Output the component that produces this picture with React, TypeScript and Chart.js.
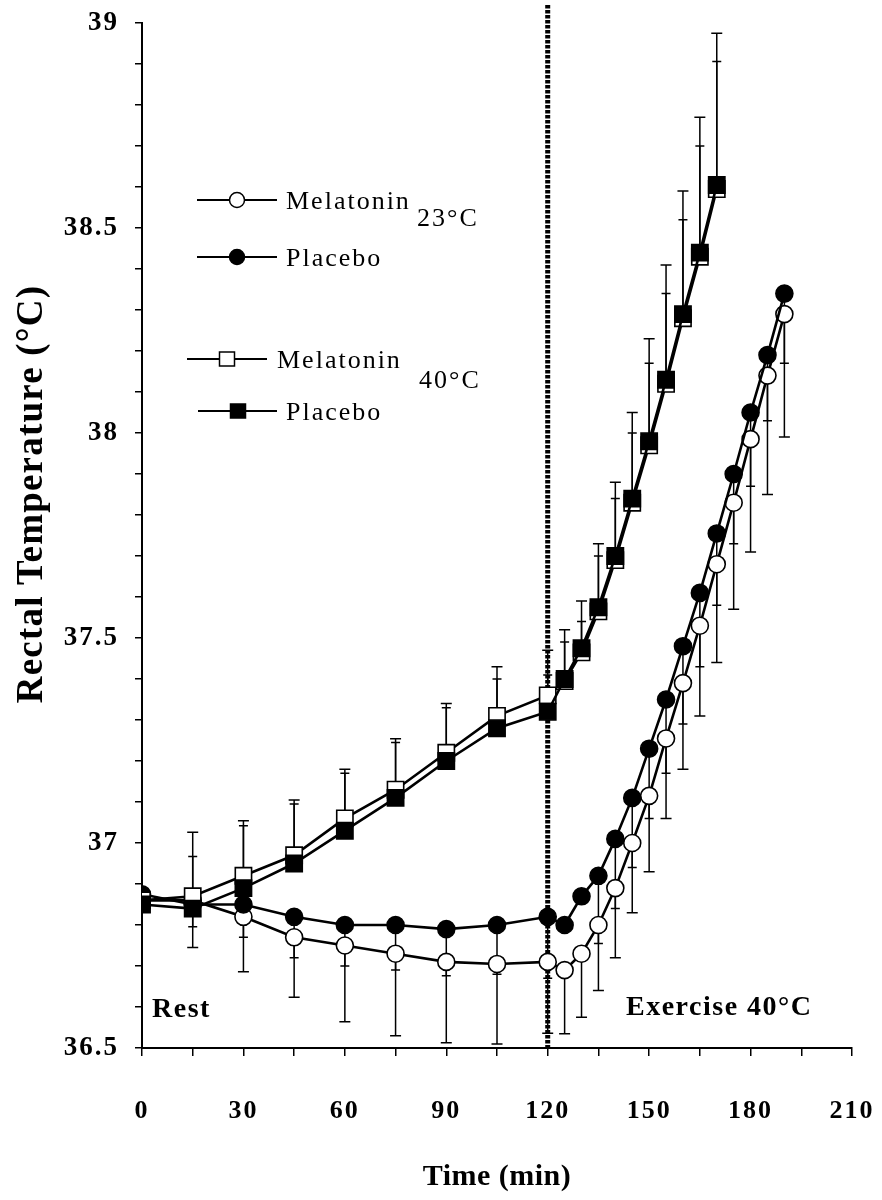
import React, { useEffect, useRef } from "react";
import { Chart, registerables } from "chart.js";

Chart.register(...registerables);

// ---- data ----
const restTimes = [0, 15, 30, 45, 60, 75, 90, 105, 120];
const exerciseTimes40 = [125, 130, 135, 140, 145, 150, 155, 160, 165, 170];
const exerciseTimes23 = [125, 130, 135, 140, 145, 150, 155, 160, 165, 170, 175, 180, 185, 190];
const exerciseStart = 120;

const melatonin23 = [
  36.86, 36.86, 36.82, 36.77, 36.75, 36.73, 36.71, 36.705, 36.71,
  36.69, 36.73, 36.8, 36.89, 37.0, 37.115, 37.255, 37.39, 37.53, 37.68, 37.83, 37.985, 38.14, 38.29,
];
const placebo23 = [
  36.875, 36.85, 36.85, 36.82, 36.8, 36.8, 36.79, 36.8, 36.82,
  36.8, 36.87, 36.92, 37.01, 37.11, 37.23, 37.35, 37.48, 37.61, 37.755, 37.9, 38.05, 38.19, 38.34,
];
const melatonin40 = [
  36.86, 36.87, 36.92, 36.97, 37.06, 37.13, 37.22, 37.31, 37.36,
  37.395, 37.465, 37.565, 37.69, 37.83, 37.97, 38.12, 38.28, 38.43, 38.595,
];
const placebo40 = [
  36.85, 36.84, 36.89, 36.95, 37.03, 37.11, 37.2, 37.28, 37.32,
  37.4, 37.475, 37.575, 37.7, 37.84, 37.98, 38.13, 38.29, 38.44, 38.605,
];

// error bar end values (SD) : 23°C groups drawn downward, 40°C groups upward
const melatonin23Lower = [
  null, 36.745, 36.686, 36.624, 36.564, 36.53, 36.513, 36.51, 36.536,
  36.535, 36.575, 36.64, 36.72, 36.83, 36.93, 37.06, 37.18, 37.31, 37.44, 37.57, 37.71, 37.85, 37.99,
];
const placebo23Lower = [
  null, 36.796, 36.77, 36.72, 36.7, 36.69, 36.676, 36.68, 36.67,
  null, null, 36.755, 36.84, 36.94, 37.06, 37.17, 37.29, 37.43, 37.58, 37.73, 37.87, 38.03, 38.17,
];
const melatonin40Upper = [
  null, 37.026, 37.054, 37.105, 37.18, 37.254, 37.34, 37.43, 37.47,
  37.52, 37.59, 37.73, 37.88, 38.05, 38.23, 38.41, 38.59, 38.77, 38.975,
];
const placebo40Upper = [
  null, 36.967, 37.042, 37.095, 37.17, 37.245, 37.33, 37.4, 37.41,
  37.49, 37.54, 37.7, 37.84, 38.0, 38.17, 38.34, 38.52, 38.7, 38.906,
];

const xTicksStep = 15;
const xLabelStep = 30;
const yMin = 36.5;
const yMax = 39;
const yStep = 0.1;

const yTitle = "Rectal Temperature (°C)";
const xTitle = "Time (min)";
const restLabel = "Rest";
const exerciseLabel = "Exercise 40°C";
const legendNames = ["Melatonin", "Placebo", "Melatonin", "Placebo"];
const legendGroups = ["23°C", "40°C"];

const times23 = [...restTimes, ...exerciseTimes23];
const times40 = [...restTimes, ...exerciseTimes40];
const toPoints = (xs: number[], ys: number[]) => xs.map((x, i) => ({ x, y: ys[i] }));

const SERIF = '"Liberation Serif", "Times New Roman", serif';

export default function App() {
  const ref = useRef<HTMLCanvasElement | null>(null);

  useEffect(() => {
    const canvas = ref.current;
    if (!canvas) return;

    const errorSets = [
      { ds: 0, ends: placebo40Upper, cap: 9 },
      { ds: 1, ends: melatonin40Upper, cap: 11 },
      { ds: 2, ends: placebo23Lower, cap: 9 },
      { ds: 3, ends: melatonin23Lower, cap: 11 },
    ];

    const overlay = {
      id: "overlay",
      beforeDraw(chart: any) {
        chart.ctx.letterSpacing = "2px";
      },
      beforeDatasetsDraw(chart: any) {
        const { ctx, chartArea, scales } = chart;
        const xs = scales.x;
        const ys = scales.y;
        ctx.save();
        // dashed vertical divider
        const xd = xs.getPixelForValue(exerciseStart);
        ctx.strokeStyle = "#000";
        ctx.lineWidth = 5;
        ctx.setLineDash([3.5, 1.5]);
        ctx.beginPath();
        ctx.moveTo(xd, chartArea.top - 18);
        ctx.lineTo(xd, chartArea.bottom);
        ctx.stroke();
        ctx.setLineDash([]);
        // error bars
        ctx.lineWidth = 1.5;
        errorSets.forEach((es) => {
          const data = chart.data.datasets[es.ds].data as { x: number; y: number }[];
          data.forEach((p, i) => {
            const e = es.ends[i];
            if (e === null || e === undefined) return;
            const px = xs.getPixelForValue(p.x);
            const py = ys.getPixelForValue(p.y);
            const pe = ys.getPixelForValue(e);
            ctx.beginPath();
            ctx.moveTo(px, py);
            ctx.lineTo(px, pe);
            ctx.moveTo(px - es.cap / 2, pe);
            ctx.lineTo(px + es.cap / 2, pe);
            ctx.stroke();
          });
        });
        ctx.restore();
      },
      afterDraw(chart: any) {
        const { ctx, chartArea } = chart;
        ctx.save();
        ctx.fillStyle = "#000";
        ctx.strokeStyle = "#000";

        // y title
        ctx.save();
        ctx.font = `bold 37px ${SERIF}`;
        ctx.letterSpacing = "1.2px";
        ctx.textAlign = "center";
        ctx.textBaseline = "alphabetic";
        ctx.translate(42, chartArea.top + 471);
        ctx.rotate(-Math.PI / 2);
        ctx.fillText(yTitle, 0, 0);
        ctx.restore();

        // x title
        ctx.font = `bold 30px ${SERIF}`;
        ctx.letterSpacing = "0.5px";
        ctx.textAlign = "center";
        ctx.textBaseline = "middle";
        ctx.fillText(xTitle, (chartArea.left + chartArea.right) / 2, chartArea.bottom + 129);

        // phase labels
        ctx.font = `bold 28px ${SERIF}`;
        ctx.letterSpacing = "1.5px";
        ctx.textAlign = "left";
        ctx.fillText(restLabel, chartArea.left + 10, chartArea.bottom - 38);
        ctx.fillText(exerciseLabel, chartArea.left + 484, chartArea.bottom - 40);

        // legend
        const rows = [
          { y: 200, x0: 197, x1: 277, mx: 237, shape: "circle", filled: false, tx: 286 },
          { y: 257, x0: 197, x1: 277, mx: 237, shape: "circle", filled: true, tx: 286 },
          { y: 359, x0: 187, x1: 267, mx: 227, shape: "square", filled: false, tx: 277 },
          { y: 411, x0: 198, x1: 277, mx: 238, shape: "square", filled: true, tx: 286 },
        ];
        rows.forEach((r, i) => {
          ctx.lineWidth = 2;
          ctx.beginPath();
          ctx.moveTo(r.x0, r.y);
          ctx.lineTo(r.x1, r.y);
          ctx.stroke();
          ctx.lineWidth = 1.5;
          ctx.fillStyle = r.filled ? "#000" : "#fff";
          ctx.beginPath();
          if (r.shape === "circle") {
            ctx.arc(r.mx, r.y, 7.5, 0, Math.PI * 2);
          } else {
            ctx.rect(r.mx - 7.5, r.y - 7, 15, 14);
          }
          ctx.fill();
          ctx.stroke();
          ctx.fillStyle = "#000";
          ctx.font = `26px ${SERIF}`;
          ctx.letterSpacing = "2px";
          ctx.textAlign = "left";
          ctx.textBaseline = "middle";
          ctx.fillText(legendNames[i], r.tx, r.y + 2);
        });
        ctx.fillText(legendGroups[0], 417, 219);
        ctx.fillText(legendGroups[1], 419, 381);

        ctx.restore();
      },
    };

    const commonLine = {
      borderColor: "#000",
      borderWidth: 2.6,
      pointBorderColor: "#000",
      pointBorderWidth: 1.6,
      fill: false,
      tension: 0,
    };

    const yLabel = (v: any) => {
      const r = Math.round(Number(v) * 10) / 10;
      return Math.abs(r * 2 - Math.round(r * 2)) < 1e-9 ? String(r) : "";
    };

    const chart = new Chart(canvas, {
      type: "line",
      data: {
        datasets: [
          {
            ...commonLine,
            label: "Placebo 40°C",
            data: toPoints(times40, placebo40),
            pointStyle: "rect",
            pointRadius: 11.5,
            pointBackgroundColor: "#000",
          },
          {
            ...commonLine,
            label: "Melatonin 40°C",
            data: toPoints(times40, melatonin40),
            pointStyle: "rect",
            pointRadius: 11.5,
            pointBackgroundColor: "#fff",
          },
          {
            ...commonLine,
            label: "Placebo 23°C",
            data: toPoints(times23, placebo23),
            pointStyle: "circle",
            pointRadius: 8.5,
            pointBackgroundColor: "#000",
          },
          {
            ...commonLine,
            label: "Melatonin 23°C",
            data: toPoints(times23, melatonin23),
            pointStyle: "circle",
            pointRadius: 8.5,
            pointBackgroundColor: "#fff",
          },
        ],
      } as any,
      options: {
        responsive: false,
        animation: false,
        layout: { padding: { top: 23, right: 30, left: 0, bottom: 0 } },
        plugins: { legend: { display: false }, tooltip: { enabled: false } },
        scales: {
          x: {
            type: "linear",
            min: 0,
            max: 210,
            afterFit: (s: any) => {
              s.height = 152;
              s.paddingLeft = 0;
              s.paddingRight = 0;
            },
            ticks: {
              stepSize: xTicksStep,
              autoSkip: false,
              maxRotation: 0,
              padding: 40,
              color: "#000",
              font: { family: SERIF, weight: "bold", size: 26 },
              callback: (v: any) => (Number(v) % xLabelStep === 0 ? String(v) : ""),
            },
            grid: {
              display: true,
              drawOnChartArea: false,
              drawTicks: true,
              tickLength: 8,
              color: "#000",
              lineWidth: 1.5,
            },
            border: { display: true, color: "#000", width: 2 },
          },
          y: {
            min: yMin,
            max: yMax,
            afterFit: (s: any) => {
              s.width = 142;
              s.paddingTop = 0;
              s.paddingBottom = 0;
            },
            ticks: {
              stepSize: yStep,
              autoSkip: false,
              padding: 16,
              color: "#000",
              font: { family: SERIF, weight: "bold", size: 27 },
              callback: yLabel,
            },
            grid: {
              display: true,
              drawOnChartArea: false,
              drawTicks: true,
              tickLength: 7,
              color: "#000",
              lineWidth: 1.5,
            },
            border: { display: true, color: "#000", width: 2 },
          },
        },
      } as any,
      plugins: [overlay],
    });

    return () => chart.destroy();
  }, []);

  return (
    <div style={{ position: "absolute", left: 0, top: 0, width: 882, height: 1200, background: "#fff" }}>
      <canvas ref={ref} width={882} height={1200} />
    </div>
  );
}
